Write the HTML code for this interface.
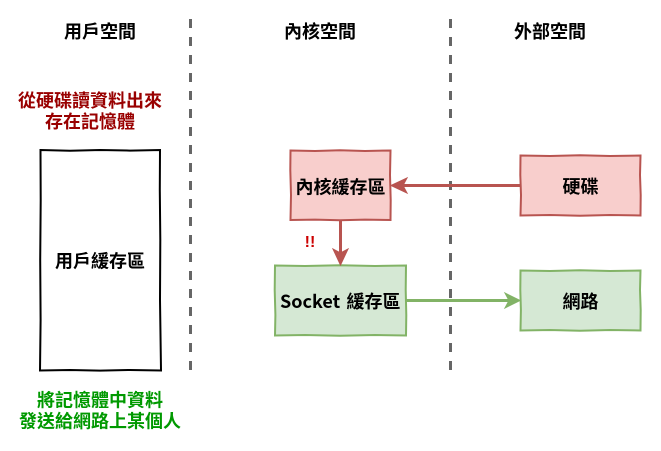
<!DOCTYPE html>
<html><head><meta charset="utf-8">
<style>
html,body{margin:0;padding:0;background:#fff;width:661px;height:451px;overflow:hidden}
svg{display:block}
text{font-family:"WenQuanYi Zen Hei","Noto Sans CJK TC",sans-serif;font-size:18px;font-weight:bold;text-anchor:middle;fill:#000}
</style></head><body>
<svg width="661" height="451" viewBox="0 0 661 451" xmlns="http://www.w3.org/2000/svg">
<rect width="661" height="451" fill="#fff"/>
<line x1="190.500" y1="19" x2="190.500" y2="372" stroke="#666" stroke-width="3" stroke-dasharray="9 9"/>
<line x1="450.500" y1="19" x2="450.500" y2="372" stroke="#666" stroke-width="3" stroke-dasharray="9 9"/>

<path d="M40.500 150 L70 150.700 L100 150 L130 150.600 L160 150 L159.800 190 L160.300 240 L160 300 L161 370.500 L130 370 L100 370.600 L70 370 L40 370.500 L40.600 320 L40.200 260 L40.700 200 Z" fill="#fff" stroke="#000" stroke-width="2"/>

<path d="M290.500 150.500 L315 151 L340 150.300 L365 151 L390.500 150.500 L390 175 L390.700 200 L390.500 220 L365 219.600 L340 220.300 L315 219.600 L290.500 220 L291 195 L290.300 170 Z" fill="#f8cecc" stroke="#b85450" stroke-width="2"/>
<path d="M520.500 155.500 L550 156 L580 155.300 L610 156 L640.500 155.500 L640 175 L640.700 195 L640.500 215.500 L610 215 L580 215.800 L550 215 L520.500 215.500 L521 195 L520.300 175 Z" fill="#f8cecc" stroke="#b85450" stroke-width="2"/>
<path d="M275 265.500 L305 266 L340 265.300 L375 266 L406 265.500 L405.700 290 L406.300 315 L406 335.500 L375 335 L340 335.800 L305 335 L275 335.500 L275.400 315 L274.700 290 Z" fill="#d5e8d4" stroke="#82b366" stroke-width="2"/>
<path d="M520.500 270.500 L550 271 L580 270.300 L610 271 L640.500 270.500 L640 290 L640.700 310 L640.500 330.500 L610 330 L580 330.800 L550 330 L520.500 330.500 L520.900 310 L520.300 290 Z" fill="#d5e8d4" stroke="#82b366" stroke-width="2"/>

<line x1="520" y1="185.500" x2="400" y2="185.500" stroke="#b85450" stroke-width="3"/>
<path d="M391 185.500 L407 178 L403 185.500 L407 193 Z" fill="#b85450" stroke="#b85450" stroke-width="1"/>
<line x1="340.500" y1="220" x2="340.500" y2="255" stroke="#b85450" stroke-width="3"/>
<path d="M340.500 265 L333 249 L340.500 253 L348 249 Z" fill="#b85450" stroke="#b85450" stroke-width="1"/>
<line x1="406" y1="300.500" x2="510" y2="300.500" stroke="#82b366" stroke-width="3"/>
<path d="M520 300.500 L505 293 L509 300.500 L505 308 Z" fill="#82b366" stroke="#82b366" stroke-width="1"/>

<text x="100" y="38">用戶空間</text>
<text x="320" y="38">內核空間</text>
<text x="550" y="38">外部空間</text>

<text x="90" y="107" style="fill:#990000">從硬碟讀資料出來</text>
<text x="90" y="128" style="fill:#990000">存在記憶體</text>

<text x="100" y="267.500">用戶緩存區</text>
<text x="340.500" y="193.500">內核緩存區</text>
<text x="580.500" y="193">硬碟</text>
<text x="280" y="308" style="text-anchor:start">Socket</text>
<text x="373.500" y="308">緩存區</text>
<text x="580.500" y="308">網路</text>
<text x="310" y="247" style="fill:#cc0000;font-family:'Liberation Sans',sans-serif;font-size:16px">!!</text>

<text x="100" y="406.500" style="fill:#009900">將記憶體中資料</text>
<text x="100" y="427.500" style="fill:#009900">發送給網路上某個人</text>
</svg>
</body></html>
